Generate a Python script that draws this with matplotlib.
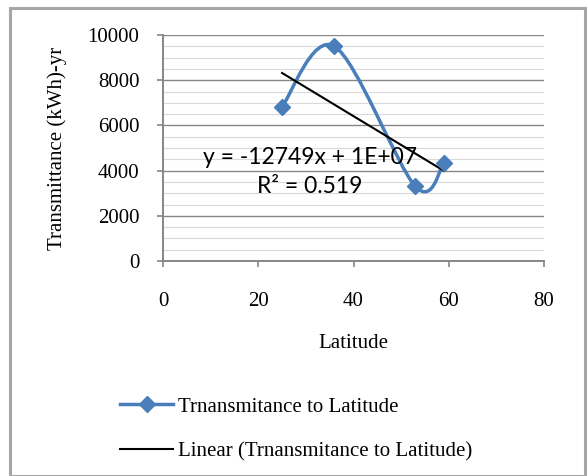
import numpy as np
import matplotlib.pyplot as plt
from matplotlib.path import Path
from matplotlib.patches import PathPatch, Rectangle
from matplotlib.lines import Line2D
from matplotlib.ticker import MultipleLocator

# data
latitude = [25, 36, 53, 59]
transmittance = [6830, 9500, 3300, 4350]
series_name = 'Trnansmitance to Latitude'
trend_name = 'Linear (Trnansmitance to Latitude)'
eq_text = 'y = -12749x + 1E+07\nR\u00b2 = 0.519'

blue = '#4a7ebb'
grey = '#868686'
serif = ['Liberation Serif', 'DejaVu Serif']

W, H = 587, 476
fig = plt.figure(figsize=(W / 100, H / 100), dpi=100)
ax = fig.add_axes([163 / W, 1 - 261 / H, (544 - 163) / W, (261 - 35) / H])

# outer chart border
fig.patches.append(Rectangle((10 / W, 0), (575 / W), 1 - 8 / H, transform=fig.transFigure,
                             fill=False, edgecolor='#a6a6a6', linewidth=2.2))


def excel_smooth(xs, ys):
    # cubic bezier through the points, like excel's "smoothed line"
    pts = np.column_stack([xs, ys]).astype(float)
    n = len(pts)
    verts = [pts[0]]
    codes = [Path.MOVETO]
    for i in range(n - 1):
        p0 = pts[max(i - 1, 0)]
        p1 = pts[i]
        p2 = pts[i + 1]
        p3 = pts[min(i + 2, n - 1)]
        c1 = p1 + (p2 - p0) / 6
        c2 = p2 - (p3 - p1) / 6
        verts += [c1, c2, p2]
        codes += [Path.CURVE4] * 3
    return Path(verts, codes)


ax.add_patch(PathPatch(excel_smooth(latitude, transmittance), fill=False,
                       edgecolor=blue, linewidth=2.5, zorder=3))
ax.plot(latitude, transmittance, linestyle='none', marker='D', markersize=8,
        color=blue, zorder=4)

# linear trend line
k, b = np.polyfit(latitude, transmittance, 1)
xt = np.array([latitude[0], latitude[-1]])
ax.plot(xt, k * xt + b, color='black', linewidth=1.5, zorder=3)

fig.text(310 / W, 1 - 172 / H, eq_text, ha='center', va='center', fontsize=16.5,
         family=['Lato', 'DejaVu Sans'], linespacing=1.45, zorder=5)

ax.set_xlim(0, 80)
ax.set_ylim(0, 10000)
ax.xaxis.set_major_locator(MultipleLocator(20))
ax.yaxis.set_major_locator(MultipleLocator(2000))
ax.yaxis.set_minor_locator(MultipleLocator(500))
ax.grid(which='major', axis='y', color=grey, linewidth=1.0)
ax.grid(which='minor', axis='y', color='#d9d9d9', linewidth=0.8)
ax.set_axisbelow(True)
for s in ['top', 'right']:
    ax.spines[s].set_visible(False)
for s in ['left', 'bottom']:
    ax.spines[s].set_color(grey)
    ax.spines[s].set_linewidth(1.4)
ax.tick_params(which='major', direction='out', length=4, width=1.2, color=grey,
               labelsize=15)
ax.tick_params(axis='x', pad=18)
ax.tick_params(axis='y', pad=13)
ax.tick_params(which='minor', length=0)
for lab in ax.get_xticklabels() + ax.get_yticklabels():
    lab.set_family(serif)

ax.set_xlabel('Latitude', family=serif, fontsize=15, labelpad=17)
ax.set_ylabel('Transmittance (kWh)-yr', family=serif, fontsize=15, labelpad=15)

handles = [Line2D([], [], color=blue, linewidth=2.5, marker='D', markersize=8),
           Line2D([], [], color='black', linewidth=1.5)]
fig.legend(handles, [series_name, trend_name], loc='upper left',
           bbox_to_anchor=(120 / W, 1 - 397 / H), frameon=False,
           prop={'family': serif, 'size': 15}, handlelength=2.55,
           handletextpad=0.25, labelspacing=1.2, borderpad=0, borderaxespad=0)

fig.savefig('out.png', dpi=100)
